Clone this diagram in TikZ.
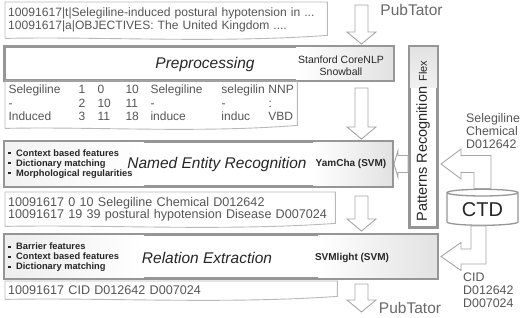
\documentclass[tikz,border=0pt]{standalone}
\usepackage{fontspec}
\setmainfont{Liberation Sans}
\usetikzlibrary{positioning, calc, shapes.geometric}

\definecolor{boxGray}{RGB}{150,150,150}
\definecolor{docGray}{RGB}{185,185,185}
\definecolor{txtGray}{RGB}{85,85,85}
\definecolor{tagGray}{RGB}{105,105,105}
\definecolor{shadeGray}{RGB}{226,226,226}

\newcommand{\featbullet}{\rule[1.9pt]{3pt}{2.4pt}\hspace{5pt}}
% down block arrow: tail coordinate, tip coordinate
\newcommand{\downblock}[2]{%
  \draw[blockArrow] ($(#1)+(-6.5,0)$) -- ($(#2)+(-6.5,-12)$) -- ($(#2)+(-14.5,-12)$)
    -- (#2) -- ($(#2)+(14.5,-12)$) -- ($(#2)+(6.5,-12)$) -- ($(#1)+(6.5,0)$) -- cycle;}
% elbow block arrow: tip, tail, shaft half, head half, side
\newcommand{\elbowblock}[5]{%
  \draw[blockArrow] (#1) -- ($(#1)+(20,-#4)$) -- ($(#1)+(20,-#3)$)
    -- ($(#1 -| #2)+({(#5)*#3},-#3)$) -- ($(#2)+({(#5)*#3},0)$)
    -- ($(#2)+({-1*(#5)*#3},0)$) -- ($(#1 -| #2)+({-1*(#5)*#3},#3)$)
    -- ($(#1)+(20,#3)$) -- ($(#1)+(20,#4)$) -- cycle;}
% document outline with wavy bottom
\newcommand{\docshape}[1]{%
  \draw[docLine] (#1.south west) -- (#1.north west) -- (#1.north east) -- ($(#1.south east)+(0,-3)$)
    .. controls ($(#1.south east)!0.35!(#1.south west)+(0,5)$) and ($(#1.south east)!0.7!(#1.south west)+(0,-2)$) .. (#1.south west);}

\begin{document}
\begin{tikzpicture}[
    x=1pt, y=-1pt,
    docBox/.style={anchor=north west, inner xsep=3pt, inner ysep=2pt, align=left,
                   text=txtGray, font=\fontsize{12.6}{12.8}\selectfont},
    docLine/.style={draw=docGray, line width=0.9pt},
    procBox/.style={rectangle, draw=boxGray, line width=2pt, fill=white},
    procTitle/.style={font=\fontsize{15.5}{16}\selectfont\itshape, text=black!85},
    toolTag/.style={font=\fontsize{10}{12}\selectfont\bfseries, align=center, text=black!85},
    featList/.style={font=\fontsize{9.3}{10}\selectfont\bfseries, align=left, anchor=west,
                     inner sep=0pt, text=black!85},
    blockArrow/.style={draw=gray!70, line width=0.9pt, fill=white, line join=miter},
    sideLabel/.style={font=\fontsize{12.4}{13}\selectfont, text=txtGray, align=left,
                      anchor=west, inner sep=0pt},
    pubLabel/.style={font=\fontsize{15.5}{16}\selectfont, text=tagGray, inner sep=0pt},
  ]
    \useasboundingbox (0,0) rectangle (520,318);
    \coordinate (colX) at (361.5,0);

    % Input document
    \node[docBox, text width=316pt, minimum height=36pt, font=\fontsize{12.1}{12.8}\selectfont] (D1) at (5,2)
      {\mbox{10091617|t|Selegiline-induced postural hypotension in ...}\\\mbox{10091617|a|OBJECTIVES: The United Kingdom ....}};
    \docshape{D1}
    \node[pubLabel] (pubTop) at (411.5,10) {PubTator};

    % Preprocessing
    \node[procBox, minimum width=388pt, minimum height=33pt] (P) at (199,63.5) {};
    \shade[left color=white, right color=shadeGray] ($(P.north east)+(-98,1)$) rectangle ($(P.south east)+(-1,-1)$);
    \draw[procBox, fill=none] (P.north west) rectangle (P.south east);
    \node[procTitle] (Ptitle) at (205,64) {Preprocessing};
    \node[toolTag, font=\fontsize{10.5}{12}\selectfont] (Ptool) at (341,66) {Stanford CoreNLP\\Snowball};

    % Token table
    \node[docBox, minimum width=292pt, minimum height=47pt, font=\fontsize{12}{13.5}\selectfont] (T) at (5,81)
      {\begin{tabular}{@{}p{70pt}@{}p{19pt}@{}p{28pt}@{}p{25pt}@{}p{71pt}@{}p{47pt}@{}l@{}}
        Selegiline & 1 & 0 & 10 & Selegiline & selegilin & NNP\\
        - & 2 & 10 & 11 & - & - & :\\
        Induced & 3 & 11 & 18 & induce & induc & VBD
       \end{tabular}};
    \docshape{T}

    % Named Entity Recognition
    \node[procBox, minimum width=387pt, minimum height=44pt] (N) at (198.5,164) {};
    \shade[left color=shadeGray!45, right color=white] ($(N.north west)+(1,1)$) rectangle ($(N.south west)+(140,-1)$);
    \shade[left color=white, right color=shadeGray] ($(N.north east)+(-80,1)$) rectangle ($(N.south east)+(-1,-1)$);
    \draw[procBox, fill=none] (N.north west) rectangle (N.south east);
    \node[featList] (Nfeat) at (8,164)
      {\featbullet Context based features\\\featbullet Dictionary matching\\\featbullet Morphological regularities};
    \node[procTitle] (Ntitle) at (217,164) {Named Entity Recognition};
    \node[toolTag] (Ntool) at (351,164) {YamCha (SVM)};

    % Entity output
    \node[docBox, text width=324pt, minimum height=34pt] (D2) at (5,192)
      {10091617 0 10 Selegiline Chemical D012642\\10091617 19 39 postural hypotension Disease D007024};
    \docshape{D2}

    % Relation Extraction
    \node[procBox, minimum width=432pt, minimum height=43pt] (R) at (221,256.5) {};
    \shade[left color=shadeGray!60, right color=white] ($(R.north west)+(1,1)$) rectangle ($(R.south west)+(140,-1)$);
    \shade[left color=white, right color=shadeGray] ($(R.north east)+(-120,1)$) rectangle ($(R.south east)+(-1,-1)$);
    \draw[procBox, fill=none] (R.north west) rectangle (R.south east);
    \node[featList] (Rfeat) at (8,257.5)
      {\featbullet Barrier features\\\featbullet Context based features\\\featbullet Dictionary matching};
    \node[procTitle] (Rtitle) at (207,258) {Relation Extraction};
    \node[toolTag] (Rtool) at (352,258) {SVMlight (SVM)};

    % Relation output
    \node[docBox, text width=326pt, minimum height=18pt] (D3) at (5,281) {10091617 CID D012642 D007024};
    \docshape{D3}
    \node[pubLabel] (pubBot) at (410,308) {PubTator};

    % Patterns Recognition
    \node[procBox, minimum width=27pt, minimum height=180pt] (PR) at (423.5,137) {};
    \shade[top color=shadeGray, bottom color=shadeGray!50] ($(PR.north west)+(1,1)$) rectangle ($(PR.north east)+(-1,42)$);
    \draw[procBox, fill=none] (PR.north west) rectangle (PR.south east);
    \node[rotate=90, font=\fontsize{14.5}{15}\selectfont, text=black!85] (PRtitle) at (423,154) {Patterns Recognition};
    \node[rotate=90, font=\fontsize{11}{12}\selectfont, text=black!85] (PRflex) at (423,71) {Flex};

    % CTD
    \node[cylinder, shape border rotate=90, draw=boxGray, line width=1.3pt, fill=white, aspect=0.14,
          minimum width=71pt, minimum height=36pt, font=\fontsize{20}{20}\selectfont, text=black!85]
          (CTD) at (482.5,210) {CTD};
    \node[sideLabel] (chemLbl) at (466,131) {Selegiline\\Chemical\\D012642};
    \node[sideLabel] (cidLbl) at (463,290) {CID\\D012642\\D007024};

    % Flow arrows
    \coordinate (a0s) at (361.5,5);
    \coordinate (a0e) at ($(P.north -| colX)+(0,-2)$);
    \coordinate (a1s) at ($(P.south -| colX)+(0,7)$);
    \coordinate (a1e) at ($(N.north -| colX)+(0,-2)$);
    \coordinate (a2s) at ($(N.south -| colX)+(0,9)$);
    \coordinate (a2e) at ($(R.north -| colX)+(0,-3)$);
    \coordinate (a3s) at ($(R.south -| colX)+(0,5)$);
    \coordinate (a3e) at (361.5,312);
    \foreach \src/\dst in {a0s/a0e, a1s/a1e, a2s/a2e, a3s/a3e} { \downblock{\src}{\dst} }

    \coordinate (t1) at ($(PR.east |- N.east)+(3,0)$);
    \elbowblock{t1}{CTD.north}{8.5}{15}{1}
    \coordinate (t2) at ($(R.east)+(3,0)$);
    \coordinate (c2) at ($(CTD.south)+(-4,0)$);
    \elbowblock{t2}{c2}{7.5}{14}{-1}

    \coordinate (saTip) at ($(N.east)+(1,0)$);
    \coordinate (saTail) at ($(PR.west |- N.east)+(-1,0)$);
    \draw[blockArrow] (saTip) -- ($(saTip)+(4,-13.5)$) -- ($(saTip)+(4,-8.5)$) -- ($(saTail)+(0,-8.5)$)
      -- ($(saTail)+(0,8.5)$) -- ($(saTip)+(4,8.5)$) -- ($(saTip)+(4,13.5)$) -- cycle;
\end{tikzpicture}
\end{document}
